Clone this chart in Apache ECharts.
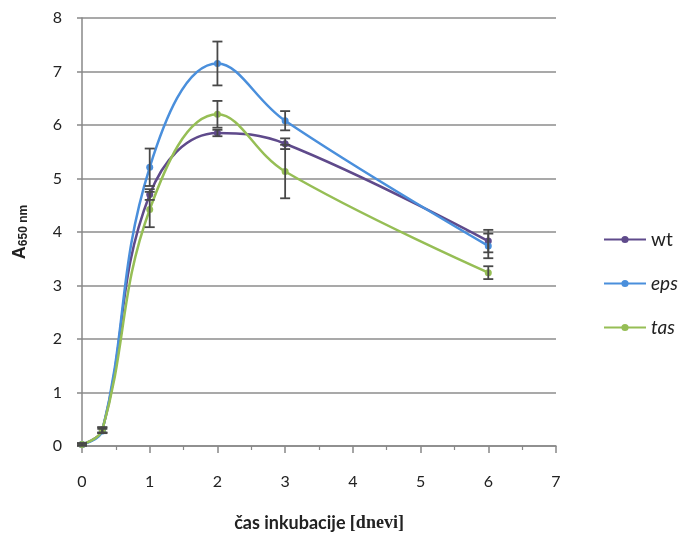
<!DOCTYPE html>
<html>
<head>
<meta charset="utf-8">
<script src="https://cdn.jsdelivr.net/npm/echarts@6/dist/echarts.min.js"></script>
<style>
  html, body { margin: 0; padding: 0; background: #fff; }
  #chart { width: 680px; height: 537px; }
</style>
</head>
<body>
<div id="chart"></div>
<script>
// Incubation time (days)
const days = [0, 0.3, 1, 2, 3, 6];

// Absorbance at 650 nm per strain
const wt  = [0.03, 0.30, 4.70, 5.85, 5.65, 3.83];
const eps = [0.03, 0.28, 5.21, 7.15, 6.08, 3.74];
const tas = [0.03, 0.30, 4.42, 6.20, 5.13, 3.24];

// Standard deviations
const wtErr  = [0.02, 0.05, 0.10, 0.06, 0.10, 0.21];
const epsErr = [0.02, 0.04, 0.35, 0.41, 0.18, 0.23];
const tasErr = [0.02, 0.05, 0.33, 0.25, 0.50, 0.12];

const xTicks = [0, 1, 2, 3, 4, 5, 6, 7];
const yTicks = [0, 1, 2, 3, 4, 5, 6, 7, 8];

const names  = ['wt', 'eps', 'tas'];
const colors = ['#5f4a8b', '#4a8fdc', '#96be55'];
const values = [wt, eps, tas];
const errors = [wtErr, epsErr, tasErr];

const pairs = v => days.map((d, i) => [d, v[i]]);

const lineSeries = names.map((n, k) => ({
  name: n,
  type: 'line',
  data: pairs(values[k]),
  smooth: 0.4,
  symbol: 'circle',
  symbolSize: 7,
  lineStyle: { width: 2.5, color: colors[k] },
  itemStyle: { color: colors[k] },
  z: 2 + k
}));

const errorSeries = names.map((n, k) => ({
  type: 'custom',
  data: days.map((d, i) => [d, values[k][i], errors[k][i]]),
  encode: { x: 0, y: 1 },
  z: 10,
  silent: true,
  renderItem: (params, api) => {
    const x = api.value(0), y = api.value(1), e = api.value(2);
    const hi = api.coord([x, y + e]);
    const lo = api.coord([x, y - e]);
    const w = 5;
    const st = { stroke: '#484848', lineWidth: 1.8 };
    return {
      type: 'group',
      children: [
        { type: 'line', shape: { x1: hi[0], y1: hi[1], x2: lo[0], y2: lo[1] }, style: st },
        { type: 'line', shape: { x1: hi[0] - w, y1: hi[1], x2: hi[0] + w, y2: hi[1] }, style: st },
        { type: 'line', shape: { x1: lo[0] - w, y1: lo[1], x2: lo[0] + w, y2: lo[1] }, style: st }
      ]
    };
  }
}));

const chart = echarts.init(document.getElementById('chart'));
chart.setOption({
  animation: false,
  backgroundColor: '#fff',
  grid: { left: 82, right: 124, top: 18, bottom: 90 },
  legend: {
    orient: 'vertical',
    left: 598,
    top: 225,
    itemWidth: 42,
    itemHeight: 9,
    itemGap: 25,
    textStyle: { fontFamily: 'Lato', fontSize: 19, color: '#222' },
    data: [
      { name: 'wt' },
      { name: 'eps', textStyle: { fontStyle: 'italic' } },
      { name: 'tas', textStyle: { fontStyle: 'italic' } }
    ]
  },
  xAxis: {
    type: 'value',
    min: xTicks[0],
    max: xTicks[xTicks.length - 1],
    interval: 1,
    name: '{a|čas inkubacije }{b|[dnevi]}',
    nameLocation: 'middle',
    nameGap: 68,
    nameTextStyle: {
      rich: {
        a: { fontFamily: 'Lato', fontWeight: 'bold', fontSize: 18, color: '#222' },
        b: { fontFamily: 'Liberation Serif', fontWeight: 'bold', fontSize: 18, color: '#222' }
      }
    },
    axisLine: { lineStyle: { color: '#888', width: 1.5 } },
    axisTick: { show: true, length: 7, lineStyle: { color: '#888', width: 1.5 } },
    minorTick: { show: true, splitNumber: 2, length: 4, lineStyle: { color: '#888', width: 1.2 } },
    axisLabel: { fontFamily: 'Lato', fontSize: 16, color: '#222', margin: 28 },
    splitLine: { show: false }
  },
  yAxis: {
    type: 'value',
    min: yTicks[0],
    max: yTicks[yTicks.length - 1],
    interval: 1,
    name: '{a|A}{s|650 nm}',
    nameLocation: 'middle',
    nameGap: 52,
    nameRotate: 90,
    nameTextStyle: {
      rich: {
        a: { fontFamily: 'Liberation Sans', fontWeight: 'bold', fontSize: 18, color: '#222' },
        s: { fontFamily: 'Liberation Sans', fontWeight: 'bold', fontSize: 12, color: '#222', padding: [8, 0, 0, 0] }
      }
    },
    axisLine: { show: true, lineStyle: { color: '#888', width: 1.5 } },
    axisTick: { show: true, length: 5, lineStyle: { color: '#888', width: 1.5 } },
    axisLabel: { fontFamily: 'Lato', fontSize: 16, color: '#222', margin: 20 },
    splitLine: { lineStyle: { color: '#8c8c8c', width: 1.5 } }
  },
  series: [...lineSeries, ...errorSeries]
});
</script>
</body>
</html>
